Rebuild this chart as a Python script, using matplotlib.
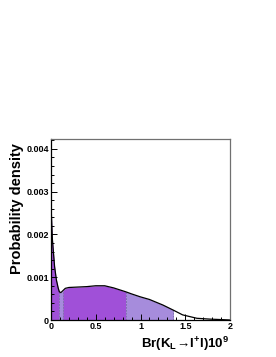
import numpy as np
import matplotlib
matplotlib.use("Agg")
import matplotlib.pyplot as plt
from matplotlib.ticker import MultipleLocator, FixedLocator

plt.rcParams['font.family'] = ['Liberation Sans', 'DejaVu Sans']
plt.rcParams['mathtext.fontset'] = 'custom'
plt.rcParams['mathtext.rm'] = 'Liberation Sans:bold'
plt.rcParams['mathtext.bf'] = 'Liberation Sans:bold'
plt.rcParams['mathtext.it'] = 'Liberation Sans:bold'

# Data
br = np.array([0, 0.015, 0.04, 0.06, 0.08, 0.093, 0.11, 0.13, 0.16, 0.2, 0.3, 0.4, 0.5,
               0.6, 0.7, 0.834, 0.9, 1.0, 1.1, 1.25, 1.367, 1.47, 1.63, 1.78, 1.9, 2.0])
density = np.array([0.0027, 0.0019, 0.00125, 0.00094, 0.00075, 0.00066, 0.00064, 0.00068,
                    0.00074, 0.00076, 0.00077, 0.00078, 0.0008, 0.0008, 0.00075, 0.00066,
                    0.00061, 0.00054, 0.00048, 0.00035, 0.00023, 0.00012, 0.00004, 0.00002,
                    0.00001, 0.0])
# interval boundaries: dark (68%) pieces and light (95%) pieces
dark_intervals = [(0.0, 0.093), (0.13, 0.834)]
light_intervals = [(0.093, 0.13), (0.834, 1.367)]
xticks = [0, 0.5, 1, 1.5, 2]
xticklabels = ["0", "0.5", "1", "1.5", "2"]
yticks = [0, 0.001, 0.002, 0.003, 0.004]
yticklabels = ["0", "0.001", "0.002", "0.003", "0.004"]

W, H = 276, 357
fig = plt.figure(figsize=(W / 100, H / 100), dpi=100)
ax = fig.add_axes([51 / W, (H - 320) / H, (230 - 51) / W, (320 - 139) / H])

dark = '#a050d8'
light = '#a68cdc'
for a, b in dark_intervals:
    m = (br >= a - 1e-9) & (br <= b + 1e-9)
    ax.fill_between(br[m], 0, density[m], color=dark, lw=0)
for a, b in light_intervals:
    m = (br >= a - 1e-9) & (br <= b + 1e-9)
    ax.fill_between(br[m], 0, density[m], color=light, lw=0)
for a, b in light_intervals:
    for v in (a, b):
        i = int(np.argmin(np.abs(br - v)))
        ax.vlines(br[i], 0, density[i], colors='#8070b0', linestyles=(0, (2, 1)), lw=0.7)

ax.plot(br, density, color='black', lw=0.9)

ax.set_xlim(0, 2)
ax.set_ylim(0, 0.00423)
ax.xaxis.set_major_locator(FixedLocator(xticks))
ax.set_xticklabels(xticklabels)
ax.xaxis.set_minor_locator(MultipleLocator(0.1))
ax.yaxis.set_major_locator(FixedLocator(yticks))
ax.set_yticklabels(yticklabels)
ax.yaxis.set_minor_locator(MultipleLocator(0.0002))
ax.tick_params(which='both', direction='in', top=False, right=False, labelsize=6.5, width=0.7)
ax.tick_params(which='major', length=4.5, pad=1.5)
ax.tick_params(which='minor', length=2.3)
for lab in ax.get_xticklabels() + ax.get_yticklabels():
    lab.set_fontweight('bold')
for s in ['left', 'bottom']:
    ax.spines[s].set_color('black')
    ax.spines[s].set_linewidth(0.9)
for s in ['top', 'right']:
    ax.spines[s].set_color('#707070')
    ax.spines[s].set_linewidth(0.9)

fig.text(17 / W, (H - 143) / H, "Probability density", rotation=90, ha='center', va='top',
         fontsize=10.5, fontweight='bold')
fig.text(229 / W, (H - 348) / H, r"Br(K$_{L}\!\rightarrow\!$l$^{+}$l)10$^{9}$",
         ha='right', va='baseline', fontsize=9.5, fontweight='bold')

fig.savefig("out.png", dpi=100)
